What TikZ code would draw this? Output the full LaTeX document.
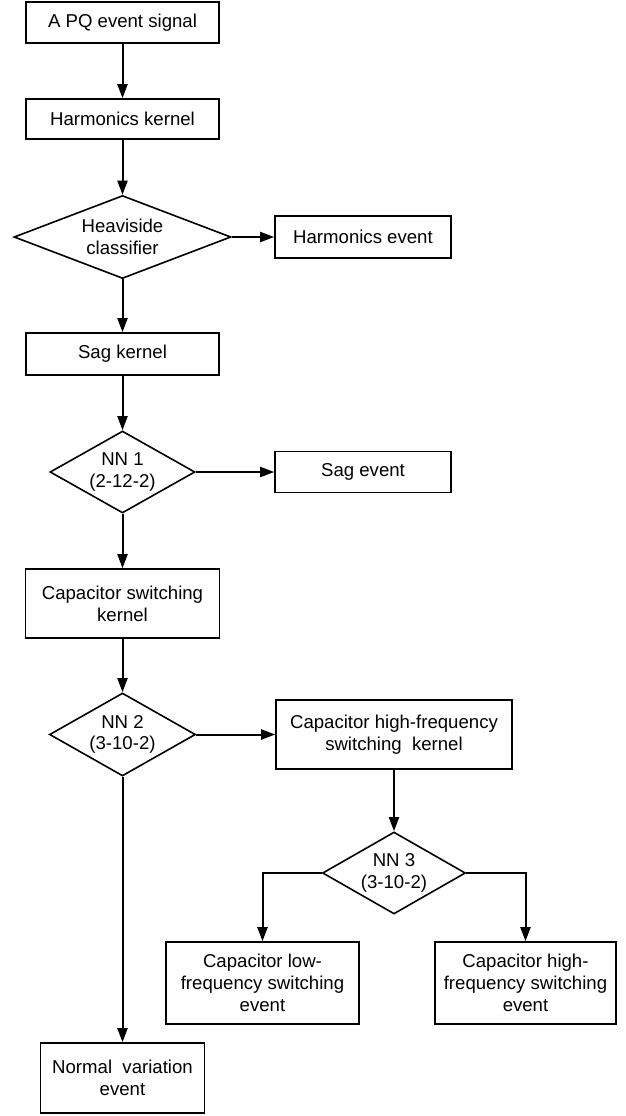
\documentclass[tikz,border=0pt]{standalone}
\usepackage{fontspec}
\setmainfont{Liberation Sans}
\usetikzlibrary{shapes.geometric,arrows.meta}

\begin{document}
\begin{tikzpicture}[x=0.5pt,y=-0.5pt,
    box/.style={draw=black,line width=0.8pt,align=center,inner sep=0pt,font=\fontsize{9.3}{10.85}\selectfont},
    decision/.style={box,diamond},
    flow/.style={black,line width=1pt,-{Triangle[length=7pt,width=5pt]}}]
        \useasboundingbox (0,0) rectangle (626,1116);

        %MAIN COLUMN
        \node[box,minimum width=96.5pt,minimum height=20.5pt] (signal) at (122.5,22.5) {A PQ event signal};
        \node[box,minimum width=96.5pt,minimum height=20pt] (harmkernel) at (122.5,119) {Harmonics kernel};
        \node[decision,aspect=2.6,minimum width=108.5pt,minimum height=41.5pt] (heaviside) at (122.5,237) {Heaviside\\classifier};
        \node[box,minimum width=96.5pt,minimum height=21pt] (sagkernel) at (122.5,354) {Sag kernel};
        \node[decision,aspect=1.77,minimum width=72.5pt,minimum height=41pt] (nnone) at (122.5,472) {NN 1\\(2-12-2)};
        \node[box,minimum width=97pt,minimum height=34.5pt] (capkernel) at (122.5,603.5) {Capacitor switching\\kernel};
        \node[decision,aspect=1.76,minimum width=73pt,minimum height=41.5pt] (nntwo) at (122.5,734.5) {NN 2\\(3-10-2)};
        \node[box,minimum width=82pt,minimum height=35pt] (normal) at (122.5,1078) {Normal \ variation\\event};

        %RIGHT SIDE
        \node[box,minimum width=88pt,minimum height=21pt] (harmevent) at (363,237) {Harmonics event};
        \node[box,minimum width=88pt,minimum height=20.5pt] (sagevent) at (363,472) {Sag event};
        \node[box,minimum width=118pt,minimum height=34.5pt] (hfkernel) at (394,734.5) {Capacitor high-frequency\\switching \ kernel};
        \node[decision,aspect=1.74,minimum width=71.5pt,minimum height=41pt] (nnthree) at (394,873) {NN 3\\(3-10-2)};
        \node[box,minimum width=96.5pt,minimum height=41pt] (lowevent) at (262.5,983) {Capacitor low-\\frequency switching\\event};
        \node[box,minimum width=90.5pt,minimum height=41pt] (highevent) at (525.5,983) {Capacitor high-\\frequency switching\\event};

        %ARROWS
        \draw[flow] (signal) -- (harmkernel);
        \draw[flow] (harmkernel) -- (heaviside);
        \draw[flow] (heaviside.east) -- (harmevent.west);
        \draw[flow] (heaviside) -- (sagkernel);
        \draw[flow] (sagkernel) -- (nnone);
        \draw[flow] (nnone.east) -- (sagevent.west);
        \draw[flow] (nnone) -- (capkernel);
        \draw[flow] (capkernel) -- (nntwo);
        \draw[flow] (nntwo.east) -- (hfkernel.west);
        \draw[flow] (nntwo) -- (normal);
        \draw[flow] (hfkernel) -- (nnthree);
        \draw[flow] (nnthree.west) -| (lowevent.north);
        \draw[flow] (nnthree.east) -| (highevent.north);
    \end{tikzpicture}
\end{document}
